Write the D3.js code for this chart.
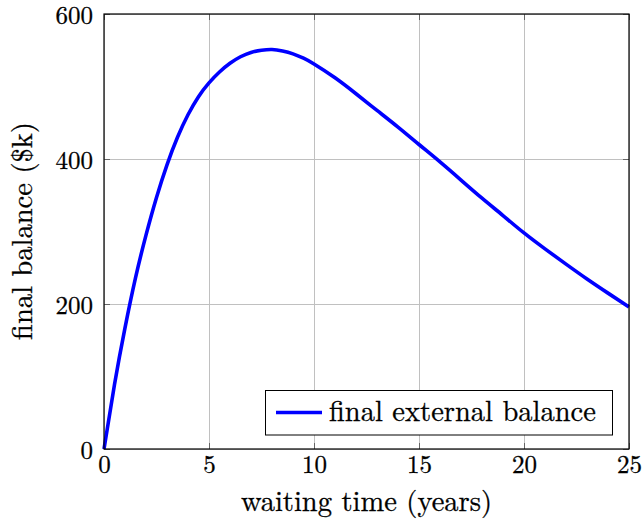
<!DOCTYPE html>
<html>
<head>
<meta charset="utf-8">
<script src="https://cdn.jsdelivr.net/npm/d3@7"></script>
<style>
  html, body { margin: 0; padding: 0; background: #fff; }
  svg { display: block; }
</style>
</head>
<body>
<svg id="chart" width="642" height="522"></svg>
<script>
// Data
const years = [0, 0.5, 1, 1.5, 2, 2.5, 3, 3.5, 4, 4.5, 5, 5.5, 6, 6.5, 7, 7.5, 8, 8.5, 9, 9.5, 10,
               11, 12, 13, 14, 15, 16, 17, 18, 19, 20, 21, 22, 23, 24, 25];
const balance = [0, 89, 167, 236, 295, 347, 392, 430, 461, 486, 505, 520, 532, 541, 547, 550, 551, 549, 545, 539, 531,
                 512, 490, 467, 444, 420, 396, 371, 346, 322, 298, 276, 255, 234.5, 215, 196];
const xTicks = [0, 5, 10, 15, 20, 25];
const yTicks = [0, 200, 400, 600];
const seriesName = "final external balance";
const xLabel = "waiting time (years)";
const yLabel = "final balance ($k)";

const FONT = "Latin Modern Roman";
const TICK_FS = "25px";
const LABEL_FS = "28.5px";

const svg = d3.select("#chart");
const m = { left: 104, right: 629, top: 14, bottom: 449 };
const x = d3.scaleLinear().domain([0, 25]).range([m.left, m.right]);
const y = d3.scaleLinear().domain([0, 600]).range([m.bottom, m.top]);

function styleText(sel, fs) {
  return sel.style("font-family", FONT).style("font-size", fs).attr("fill", "#000")
    .attr("stroke", "#000").attr("stroke-width", 0.3);
}

// grid
const g = svg.append("g");
g.selectAll(".vg").data(xTicks).enter().append("line")
  .attr("x1", d => x(d)).attr("x2", d => x(d))
  .attr("y1", m.top).attr("y2", m.bottom)
  .attr("stroke", "#c0c0c0").attr("stroke-width", 1).attr("shape-rendering", "crispEdges");
g.selectAll(".hg").data(yTicks).enter().append("line")
  .attr("x1", m.left).attr("x2", m.right)
  .attr("y1", d => y(d)).attr("y2", d => y(d))
  .attr("stroke", "#c0c0c0").attr("stroke-width", 1).attr("shape-rendering", "crispEdges");

// inner tick marks (all four sides)
const tl = 6;
xTicks.forEach(d => {
  g.append("line").attr("x1", x(d)).attr("x2", x(d)).attr("y1", m.bottom).attr("y2", m.bottom - tl)
    .attr("stroke", "#666").attr("shape-rendering", "crispEdges");
  g.append("line").attr("x1", x(d)).attr("x2", x(d)).attr("y1", m.top).attr("y2", m.top + tl)
    .attr("stroke", "#666").attr("shape-rendering", "crispEdges");
});
yTicks.forEach(d => {
  g.append("line").attr("x1", m.left).attr("x2", m.left + tl).attr("y1", y(d)).attr("y2", y(d))
    .attr("stroke", "#666").attr("shape-rendering", "crispEdges");
  g.append("line").attr("x1", m.right).attr("x2", m.right - tl).attr("y1", y(d)).attr("y2", y(d))
    .attr("stroke", "#666").attr("shape-rendering", "crispEdges");
});

// axes via d3 (labels only)
const xAxis = d3.axisBottom(x).tickValues(xTicks).tickSize(0).tickPadding(6).tickFormat(d3.format("d"));
const yAxis = d3.axisLeft(y).tickValues(yTicks).tickSize(0).tickPadding(11).tickFormat(d3.format("d"));
const gx = svg.append("g").attr("transform", `translate(0,${m.bottom})`).call(xAxis);
const gy = svg.append("g").attr("transform", `translate(${m.left},0)`).call(yAxis);
[gx, gy].forEach(a => {
  a.attr("font-family", null).attr("font-size", null);
  a.select(".domain").remove();
  styleText(a.selectAll("text"), TICK_FS);
});
gy.selectAll("text").attr("dy", "0.36em");

// line
const line = d3.line().x((d, i) => x(years[i])).y(d => y(d)).curve(d3.curveNatural);
svg.append("path").datum(balance)
  .attr("d", line).attr("fill", "none").attr("stroke", "#0000ff").attr("stroke-width", 3.6)
  .attr("stroke-linejoin", "round");

// frame
svg.append("rect").attr("x", m.left).attr("y", m.top)
  .attr("width", m.right - m.left).attr("height", m.bottom - m.top)
  .attr("fill", "none").attr("stroke", "#000").attr("stroke-width", 1.2);

// legend
const lg = svg.append("g");
lg.append("rect").attr("x", 265.5).attr("y", 390.5).attr("width", 347).attr("height", 44.5)
  .attr("fill", "#fff").attr("stroke", "#000").attr("stroke-width", 1);
lg.append("line").attr("x1", 276).attr("x2", 322).attr("y1", 412.5).attr("y2", 412.5)
  .attr("stroke", "#0000ff").attr("stroke-width", 3.6);
styleText(lg.append("text").attr("x", 329).attr("y", 421), LABEL_FS).text(seriesName);

// axis labels
styleText(svg.append("text").attr("x", (m.left + m.right) / 2).attr("y", 511).attr("text-anchor", "middle"), LABEL_FS).text(xLabel);
styleText(svg.append("text").attr("transform", `translate(32,231) rotate(-90)`)
  .attr("text-anchor", "middle"), LABEL_FS).text(yLabel);
</script>
</body>
</html>
